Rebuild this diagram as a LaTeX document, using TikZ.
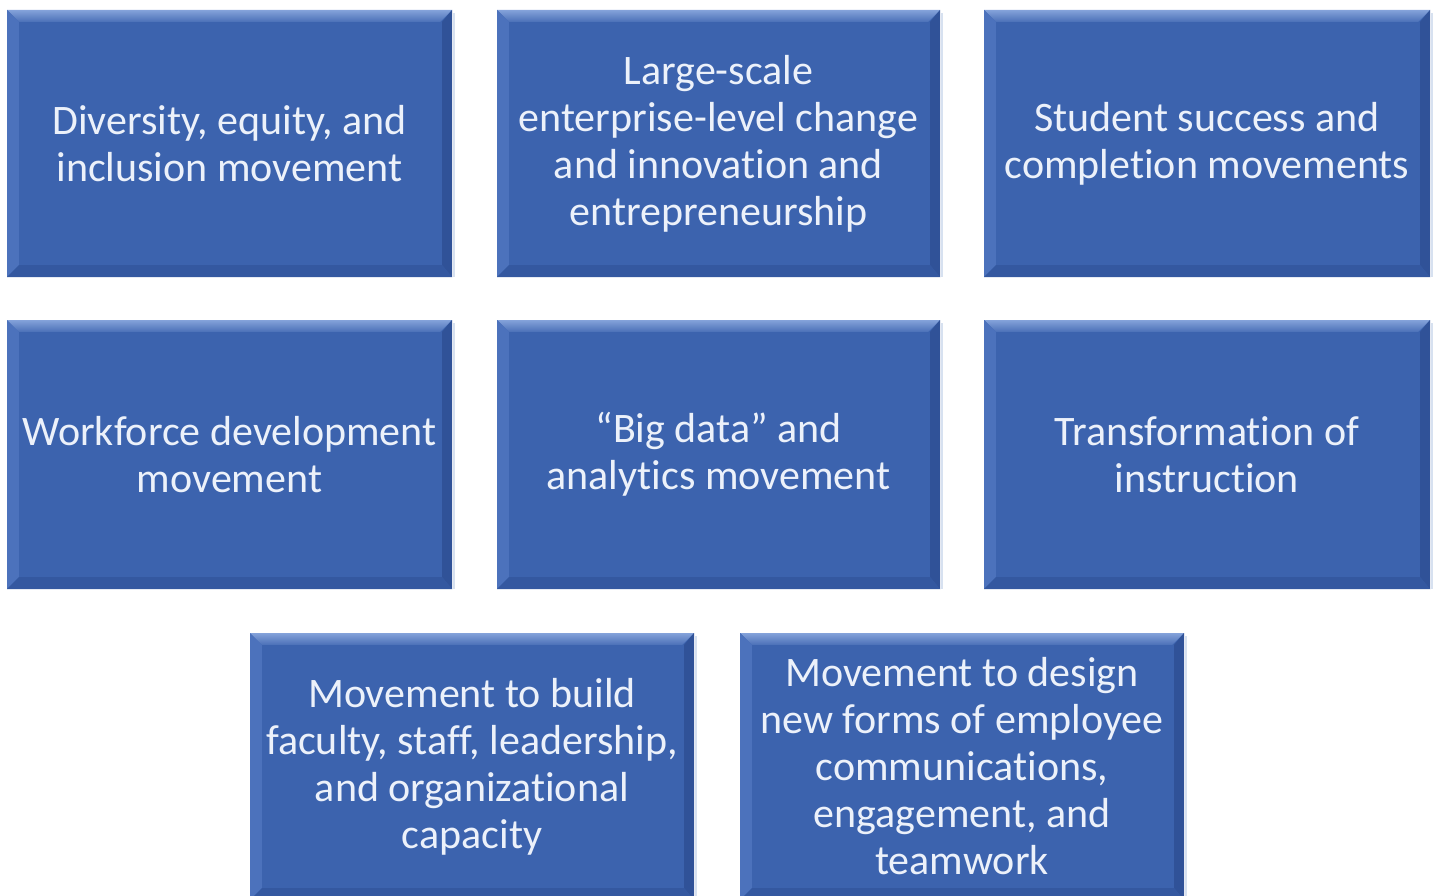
\documentclass[tikz,border=0pt]{standalone}
\usepackage{fontspec}
\setmainfont[Ligatures=NoCommon]{Carlito}
\definecolor{boxbase}{RGB}{60,99,174}
\definecolor{boxtop}{RGB}{132,162,218}
\definecolor{boxleft}{RGB}{76,114,188}
\definecolor{boxright}{RGB}{48,82,152}
\definecolor{boxbottom}{RGB}{52,88,160}
\definecolor{boxtext}{RGB}{236,241,250}
\definecolor{edgeline}{RGB}{215,225,240}
\tikzset{
  boxlabel/.style={align=center, text=boxtext, font=\fontsize{42}{47}\selectfont, inner sep=0pt}
}
\newcommand{\bevbox}[6]{%
  % #1 name, #2 x1, #3 y1, #4 x2, #5 y2, #6 text
  \fill[boxbase] (#2,#3) rectangle (#4,#5);
  \shade[top color=boxtop, bottom color=boxbase!80!boxtop] (#2,#3) -- (#4,#3) -- ({#4-12},{#3+12}) -- ({#2+12},{#3+12}) -- cycle;
  \fill[boxleft] (#2,#3) -- ({#2+12},{#3+12}) -- ({#2+12},{#5-12}) -- (#2,#5) -- cycle;
  \fill[boxright] (#4,#3) -- ({#4-10},{#3+12}) -- ({#4-10},{#5-12}) -- (#4,#5) -- cycle;
  \fill[boxbottom] (#2,#5) -- ({#2+12},{#5-12}) -- ({#4-10},{#5-12}) -- (#4,#5) -- cycle;
  \fill[boxbase] ({#2+12},{#3+12}) rectangle ({#4-10},{#5-12});
  \draw[edgeline, line width=2pt] ({#4+1.5},{#3+3}) -- ({#4+1.5},{#5});
  \node[boxlabel] (#1) at ({(#2+#4)/2},{(#3+#5)/2}) {#6};
}
\begin{document}
\begin{tikzpicture}[x=1pt,y=-1pt]
\useasboundingbox[fill=white] (0,0) rectangle (1437,896);
\bevbox{dei}{7}{10}{452}{277}{Diversity, equity, and\\inclusion movement}
\bevbox{large}{497}{10}{940}{277}{Large-scale\\enterprise-level change\\and innovation and\\entrepreneurship}
\bevbox{student}{984}{10}{1430}{277}{Student success and\\completion movements}
\bevbox{work}{7}{320}{452}{589}{Workforce development\\movement}
\bevbox{big}{497}{320}{940}{589}{“Big data” and\\analytics movement}
\bevbox{trans}{984}{320}{1430}{589}{Transformation of\\instruction}
\bevbox{faculty}{250}{633}{694}{900}{Movement to build\\faculty, staff, leadership,\\and organizational\\capacity}
\bevbox{employee}{740}{633}{1184}{900}{Movement to design\\new forms of employee\\communications,\\engagement, and\\teamwork}
\end{tikzpicture}
\end{document}
